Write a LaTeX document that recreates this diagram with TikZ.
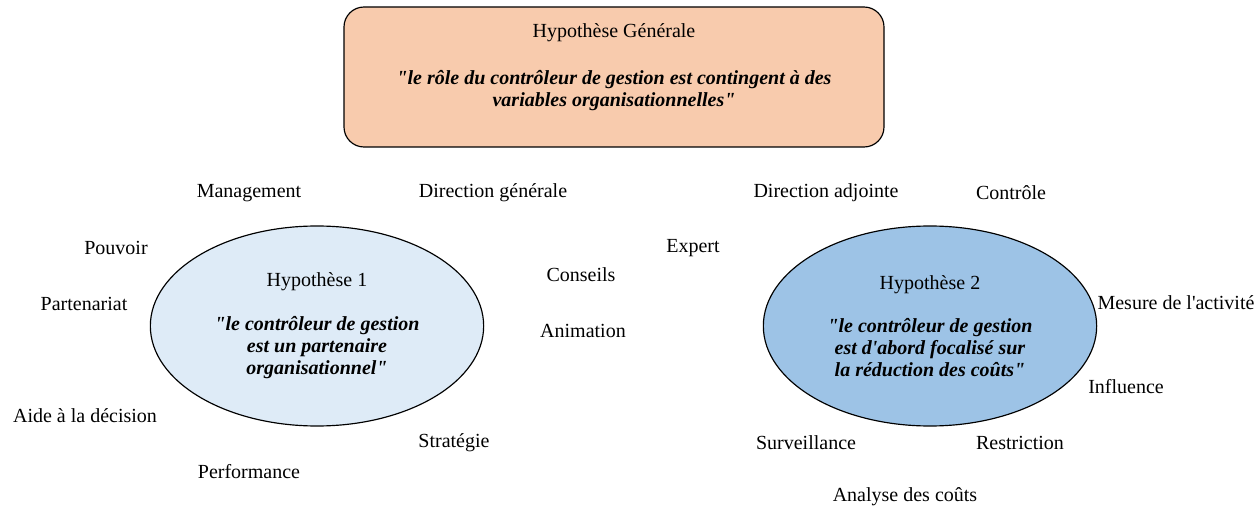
\documentclass[tikz,border=0pt]{standalone}
\usepackage{fontspec}
\setmainfont{Liberation Serif}[Ligatures=TeXOff]
\usetikzlibrary{shapes.geometric}
\definecolor{peach}{HTML}{F8CBAD}
\definecolor{paleblue}{HTML}{DEEBF7}
\definecolor{midblue}{HTML}{9DC3E6}
\newcommand{\quotetext}[1]{\textbf{\textit{#1}}}

\begin{document}
\begin{tikzpicture}
		[x=0.6pt, y=-0.6pt, font=\fontsize{12}{13.2}\selectfont, line width=0.7pt,
		genbox/.style = {draw, rounded corners=12pt, fill=peach, minimum width=324pt, minimum height=84pt},
		hyp/.style = {draw, ellipse, minimum width=200pt, minimum height=120pt, align=center, inner sep=0pt},
		quote/.style = {align=center, inner sep=0pt},
		word/.style = {inner sep=0pt}]
	\useasboundingbox (0,0) rectangle (1260,513);
	% hypothese generale
	\node[genbox] (gen) at (614,77) {};
	\node[word] (gentitle) at (614,33) {Hypothèse Générale};
	\node[quote] (genquote) at (614,91) {\quotetext{"le rôle du contrôleur de gestion est contingent à des}\\
		\quotetext{variables organisationnelles"}};
	% hypothese 1
	\node[hyp, fill=paleblue] (h1) at (317,326) {Hypothèse 1\\[13pt]
		\quotetext{"le contrôleur de gestion}\\ \quotetext{est un partenaire}\\ \quotetext{organisationnel"}};
	\node[word] (management) at (249,193) {Management};
	\node[word] (dirgen) at (493,193) {Direction générale};
	\node[word] (pouvoir) at (116,248) {Pouvoir};
	\node[word] (partenariat) at (84,304) {Partenariat};
	\node[word] (conseils) at (581,275) {Conseils};
	\node[word] (animation) at (583,331) {Animation};
	\node[word] (aide) at (85,416) {Aide à la décision};
	\node[word] (strategie) at (454,443) {Stratégie};
	\node[word] (performance) at (249,472) {Performance};
	% hypothese 2
	\node[hyp, fill=midblue] (h2) at (930,326) {Hypothèse 2\\[13pt]
		\quotetext{"le contrôleur de gestion}\\ \quotetext{est d'abord focalisé sur}\\ \quotetext{la réduction des coûts"}};
	\node[word] (diradj) at (826,193) {Direction adjointe};
	\node[word] (controle) at (1011,193) {Contrôle};
	\node[word] (expert) at (693,248) {Expert};
	\node[word] (mesure) at (1176,303) {Mesure de l'activité};
	\node[word] (influence) at (1126,387) {Influence};
	\node[word] (surveillance) at (806,443) {Surveillance};
	\node[word] (restriction) at (1020,443) {Restriction};
	\node[word] (analyse) at (905,497) {Analyse des coûts};
\end{tikzpicture}
\end{document}
